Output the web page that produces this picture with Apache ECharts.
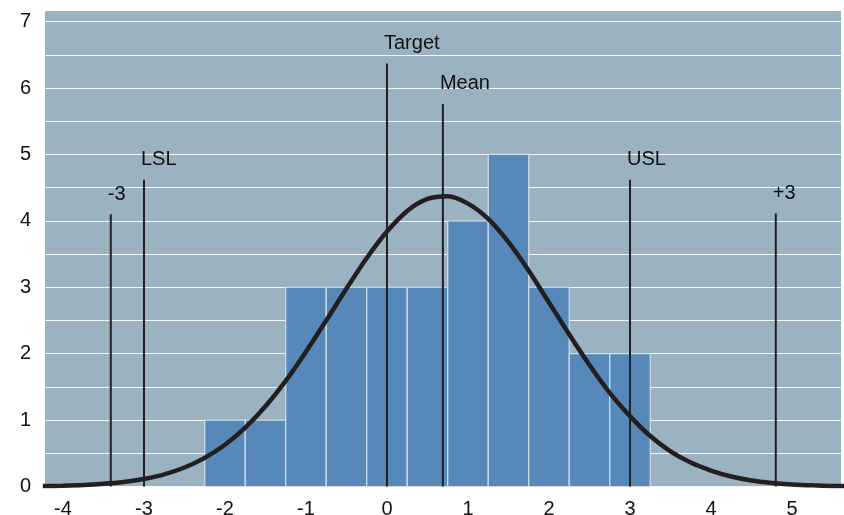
<!DOCTYPE html>
<html>
<head>
<meta charset="utf-8">
<style>
html,body{margin:0;padding:0;background:#fff;}
#chart{width:844px;height:515px;}
</style>
<script src="https://cdn.jsdelivr.net/npm/echarts@6/dist/echarts.min.js"></script>
</head>
<body>
<div id="chart"></div>
<script>
// Histogram bins (centres), bin width and counts
const binCenters = [-2, -1.5, -1, -0.5, 0, 0.5, 1, 1.5, 2, 2.5, 3];
const binWidth = 0.5;
const binCounts = [1, 1, 3, 3, 3, 3, 4, 5, 3, 2, 2];

// Fitted curve
const curveX = [-4.25,-4,-3.75,-3.5,-3.25,-3,-2.75,-2.5,-2.25,-2,-1.75,-1.5,-1.25,-1,-0.75,-0.5,-0.25,0,0.25,0.5,0.75,1,1.25,1.5,1.75,2,2.25,2.5,2.75,3,3.25,3.5,3.75,4,4.25,4.5,4.75,5,5.25,5.5,5.75];
const curveY = [0.006,0.012,0.022,0.040,0.068,0.114,0.183,0.286,0.431,0.628,0.885,1.207,1.59,2.03,2.50,2.98,3.44,3.84,4.15,4.33,4.37,4.26,4.03,3.68,3.25,2.77,2.29,1.83,1.41,1.06,0.76,0.53,0.36,0.24,0.15,0.09,0.054,0.031,0.017,0.009,0.005];

// Reference lines
const markerNames = ['-3', 'LSL', 'Target', 'Mean', 'USL', '+3'];
const markerX = [-3.41, -3, 0, 0.69, 3, 4.80];
const markerTop = [4.10, 4.62, 6.37, 5.76, 4.62, 4.11];

// Axis ticks
const xTicks = [-4, -3, -2, -1, 0, 1, 2, 3, 4, 5];
const xMin = -4.222, xMax = 5.605;
const yMin = 0, yMax = 7.16, yStep = 0.5;

const FONT = '"Liberation Sans", Arial, sans-serif';
const INK = '#231f20';

const barData = binCenters.map((c, i) => [c - binWidth / 2, c + binWidth / 2, binCounts[i]]);
const curveData = curveX.map((x, i) => [x, curveY[i]]);
const markerData = markerX.map((x, i) => [x, markerTop[i], markerNames[i]]);

const chart = echarts.init(document.getElementById('chart'), null, {renderer: 'canvas'});
chart.setOption({
  animation: false,
  grid: {left: 45, right: 3, top: 11, bottom: 28.5, show: true, backgroundColor: '#9bb2c1', borderWidth: 0, containLabel: false, outerBoundsMode: 'none'},
  xAxis: {
    type: 'value', min: xMin, max: xMax,
    axisLine: {show: false}, axisTick: {show: false}, splitLine: {show: false},
    axisLabel: {customValues: xTicks, fontSize: 20, color: '#111', fontFamily: FONT, margin: 13}
  },
  yAxis: {
    type: 'value', min: yMin, max: yMax, interval: yStep,
    axisLine: {show: false}, axisTick: {show: false},
    splitLine: {show: true, showMaxLine: false, lineStyle: {color: '#f2f6f8', width: 1}},
    axisLabel: {
      fontSize: 20, color: '#111', fontFamily: FONT, margin: 14, showMaxLabel: false,
      formatter: v => (Math.abs(v - Math.round(v)) < 1e-9 ? String(Math.round(v)) : '')
    }
  },
  series: [
    {
      type: 'custom', z: 2,
      data: barData,
      encode: {x: [0, 1], y: 2},
      renderItem: function (params, api) {
        const p0 = api.coord([api.value(0), api.value(2)]);
        const p1 = api.coord([api.value(1), 0]);
        return {
          type: 'rect',
          shape: {x: p0[0], y: p0[1], width: p1[0] - p0[0], height: p1[1] - p0[1]},
          style: {fill: '#5688ba', stroke: '#d3dee8', lineWidth: 1.2}
        };
      }
    },
    {
      type: 'custom', z: 3,
      data: markerData,
      encode: {x: 0, y: 1},
      renderItem: function (params, api) {
        const b = api.coord([api.value(0), 0]);
        const t = api.coord([api.value(0), api.value(1)]);
        return {
          type: 'group',
          children: [
            {type: 'line', shape: {x1: b[0], y1: b[1], x2: t[0], y2: t[1]}, style: {stroke: INK, lineWidth: 2}},
            {type: 'text', style: {text: markerNames[params.dataIndex], x: t[0] - 3, y: t[1] - 20, align: 'left', verticalAlign: 'middle', font: '20px ' + FONT, fill: '#111'}}
          ]
        };
      }
    },
    {
      type: 'line', z: 4,
      data: curveData,
      smooth: 0.3, showSymbol: false, symbol: 'none', clip: true,
      lineStyle: {color: INK, width: 4.5}
    }
  ]
});
</script>
</body>
</html>
